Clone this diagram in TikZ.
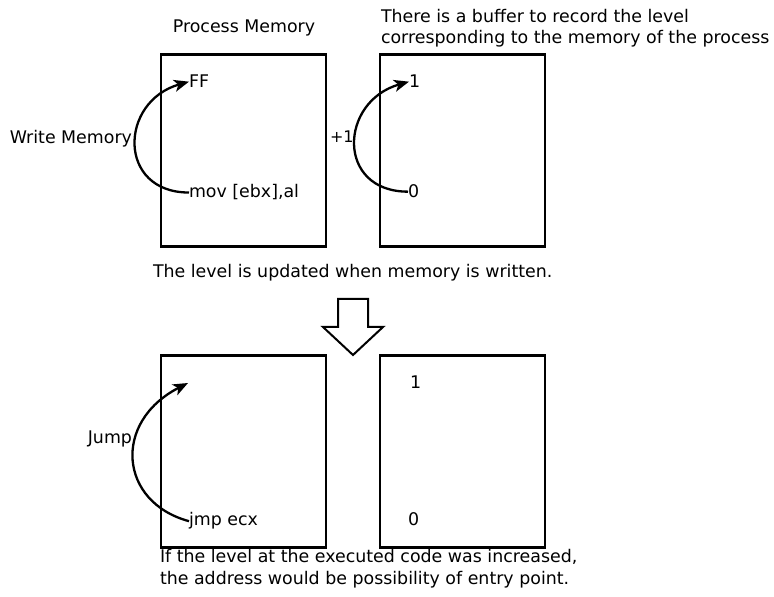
\documentclass[tikz,border=0pt]{standalone}
\usepackage{fontspec}
\setmainfont{DejaVu Sans}
\usetikzlibrary{arrows.meta}
\tikzset{
  membox/.style={draw=black, line width=2.6pt, minimum width=165pt, minimum height=192pt, inner sep=0pt, outer sep=0pt},
  txt/.style={inner sep=0pt, outer sep=0pt, font=\fontsize{17.4}{21}\selectfont},
  smalltxt/.style={inner sep=0pt, outer sep=0pt, font=\fontsize{16}{19}\selectfont},
  curvearrow/.style={line width=2.3pt, -{Stealth[length=15pt,width=12pt,inset=4pt]}},
  bigarrow/.style={draw=black, line width=2pt, fill=white, line join=miter}
}
\begin{document}
\begin{tikzpicture}[x=1pt,y=1pt]
\useasboundingbox (0,0) rectangle (774,597);
% boxes
\node[membox] (box1) at (243.5,446.5) {};
\node[membox] (box2) at (462.5,446.5) {};
\node[membox] (box3) at (243.5,145.5) {};
\node[membox] (box4) at (462.5,145.5) {};
% titles
\node[txt, anchor=base] (pm) at (244,564) {Process Memory};
\node[txt, anchor=base west] (buf1) at (381,574) {There is a buffer to record the level};
\node[txt, anchor=base west] (buf2) at (381,553) {corresponding to the memory of the process};
% top left contents
\node[txt, anchor=base west] (ff) at (189,509) {FF};
\node[txt, anchor=base west] (mov) at (189,399) {mov [ebx],al};
\node[txt, anchor=base east] (wm) at (132,453) {Write Memory};
% top right contents
\node[txt, anchor=base west] (one1) at (409,509) {1};
\node[txt, anchor=base west] (zero1) at (408,399) {0};
\node[smalltxt, anchor=base west] (plus) at (330,454) {+1};
% connectors top
\draw[curvearrow] (mov.west) .. controls +(-72,0) and +(-70,-20) .. (ff.west);
\draw[curvearrow] (zero1.west) .. controls +(-72,0) and +(-70,-20) .. (one1.west);
% middle text
\node[txt, anchor=base west] (upd) at (153,319) {The level is updated when memory is written.};
% big down arrow
\draw[bigarrow] (338,298) -- (368,298) -- (368,270) -- (383,270) -- (353,242) -- (323,270) -- (338,270) -- cycle;
\coordinate (arrowtip) at (353,242);
% bottom left contents
\node[txt, anchor=base west] (jmp) at (189,71) {jmp ecx};
\node[txt, anchor=base east] (jump) at (132,153) {Jump};
\coordinate (jtgt) at (188,214);
\draw[curvearrow] (jmp.west) .. controls +(-70,19) and +(-76,-39) .. (jtgt);
% bottom right contents
\node[txt, anchor=base west] (one2) at (410,208) {1};
\node[txt, anchor=base west] (zero2) at (408,71) {0};
% bottom note
\node[txt, anchor=base west] (note1) at (160,34) {If the level at the executed code was increased,};
\node[txt, anchor=base west] (note2) at (160,12) {the address would be possibility of entry point.};
\end{tikzpicture}
\end{document}
